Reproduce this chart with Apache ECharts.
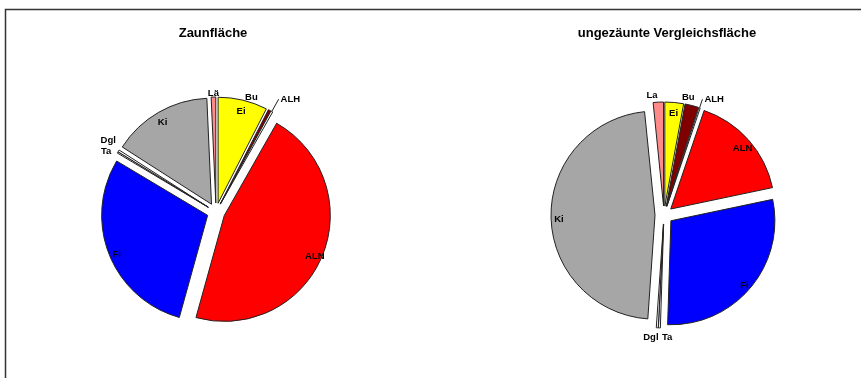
<!DOCTYPE html>
<html>
<head>
<meta charset="utf-8">
<script src="https://cdn.jsdelivr.net/npm/echarts@6/dist/echarts.min.js"></script>
<style>
  html, body { margin: 0; padding: 0; background: #fff; }
  #chart { width: 861px; height: 378px; }
</style>
</head>
<body>
<div id="chart"></div>
<script>
// Tree species shares (%) in clockwise order from 12 o'clock
const species = ['Ei', 'Bu', 'ALH', 'ALN', 'Fi', 'Ta', 'Dgl', 'Ki', 'Lä'];
const fencedLabels = ['Ei', 'Bu', 'ALH', 'ALN', 'Fi', 'Ta', 'Dgl', 'Ki', 'Lä'];
const unfencedLabels = ['Ei', 'Bu', 'ALH', 'ALN', 'Fi', 'Ta', 'Dgl', 'Ki', 'La'];
const fencedShares = [7.5, 0.4, 0.3, 46.0, 29.2, 0.2, 0.3, 15.2, 0.7];
const unfencedShares = [2.9, 2.1, 0.2, 16.5, 28.8, 0.3, 0.3, 47.3, 1.6];
const speciesColors = ['#ffff00', '#800000', '#ffffff', '#ff0000', '#0000ff', '#ffffff', '#ffffff', '#a6a6a6', '#ff8a8a'];
const panelTitles = ['Zaunfläche', 'ungezäunte Vergleichsfläche'];

// label groups: inside the slice, just outside it, or with a leader line
const insideNames = ['Ei', 'ALN', 'Fi', 'Ki'];
const leaderNames = ['ALH'];
// small shifts that keep crowded outer labels apart [dx, dy]
const fencedLabelShift = { Bu: [-20, -9], Ta: [-8, 1], Dgl: [-7, -8] };
const unfencedLabelShift = { Lä: [-6, -1], Bu: [-5, -2], Ta: [8, 3], Dgl: [-6, 4] };

const FONT = '"Liberation Sans", Arial, sans-serif';
const labelText = { color: '#000', fontFamily: FONT, fontWeight: 'bold', fontSize: 9.5 };

function sliceSeries(values, labels, center, r, leaderLen) {
  return {
    type: 'pie',
    center: center,
    radius: [0, r],
    startAngle: 90,
    clockwise: true,
    minAngle: 0,
    selectedMode: 'multiple',
    selectedOffset: 9,
    avoidLabelOverlap: false,
    itemStyle: { borderColor: '#222', borderWidth: 1 },
    select: { itemStyle: { borderColor: '#222', borderWidth: 1 } },
    emphasis: { disabled: true },
    silent: true,
    label: Object.assign({ show: false, position: 'outside', distanceToLabelLine: 2 }, labelText),
    labelLine: { show: false, length: leaderLen, length2: 0, lineStyle: { color: '#222', width: 1 } },
    data: values.map((v, i) => {
      const lead = leaderNames.indexOf(species[i]) >= 0;
      return {
        name: labels[i],
        value: v,
        selected: true,
        itemStyle: { color: speciesColors[i] },
        select: { itemStyle: { color: speciesColors[i] } },
        label: { show: lead },
        labelLine: { show: lead }
      };
    })
  };
}

// transparent ring whose centred labels sit at radius (r0 + r) / 2
function labelRing(values, labels, center, r0, r, showFn, shift) {
  return {
    type: 'pie',
    center: center,
    radius: [r0, r],
    startAngle: 90,
    clockwise: true,
    minAngle: 0,
    silent: true,
    avoidLabelOverlap: false,
    itemStyle: { color: 'rgba(0,0,0,0)', borderWidth: 0 },
    emphasis: { disabled: true },
    label: Object.assign({ position: 'inside', overflow: 'none' }, labelText),
    labelLine: { show: false },
    labelLayout: function (p) {
      const s = shift && shift[species[p.dataIndex]];
      return s ? { dx: s[0], dy: s[1] } : {};
    },
    data: values.map((v, i) => ({
      name: labels[i],
      value: v,
      label: { show: showFn(species[i]) }
    }))
  };
}

const isInside = n => insideNames.indexOf(n) >= 0;
const isOuter = n => insideNames.indexOf(n) < 0 && leaderNames.indexOf(n) < 0;

const chart = echarts.init(document.getElementById('chart'), null, { renderer: 'canvas' });
chart.setOption({
  animation: false,
  backgroundColor: '#fff',
  title: [
    { text: panelTitles[0], left: 213, top: 27, padding: 0, textAlign: 'center',
      textStyle: { fontFamily: FONT, fontSize: 13, fontWeight: 'bold', color: '#000' } },
    { text: panelTitles[1], left: 667, top: 27, padding: 0, textAlign: 'center',
      textStyle: { fontFamily: FONT, fontSize: 13, fontWeight: 'bold', color: '#000' } }
  ],
  graphic: [{
    type: 'rect',
    silent: true,
    shape: { x: 5.5, y: 9.5, width: 900, height: 400 },
    style: { fill: 'none', stroke: '#333', lineWidth: 1.5 }
  }],
  series: [
    // fenced plot
    sliceSeries(fencedShares, fencedLabels, [216, 212], 106, 14),
    labelRing(fencedShares, fencedLabels, [216, 215], 94, 114, isInside, null),
    labelRing(fencedShares, fencedLabels, [216, 212], 110, 122, isOuter, fencedLabelShift),
    // unfenced comparison plot
    sliceSeries(unfencedShares, unfencedLabels, [664, 215], 104, 9),
    labelRing(unfencedShares, unfencedLabels, [664, 218], 92, 112, isInside, null),
    labelRing(unfencedShares, unfencedLabels, [664, 215], 110, 122, isOuter, unfencedLabelShift)
  ]
});
</script>
</body>
</html>
